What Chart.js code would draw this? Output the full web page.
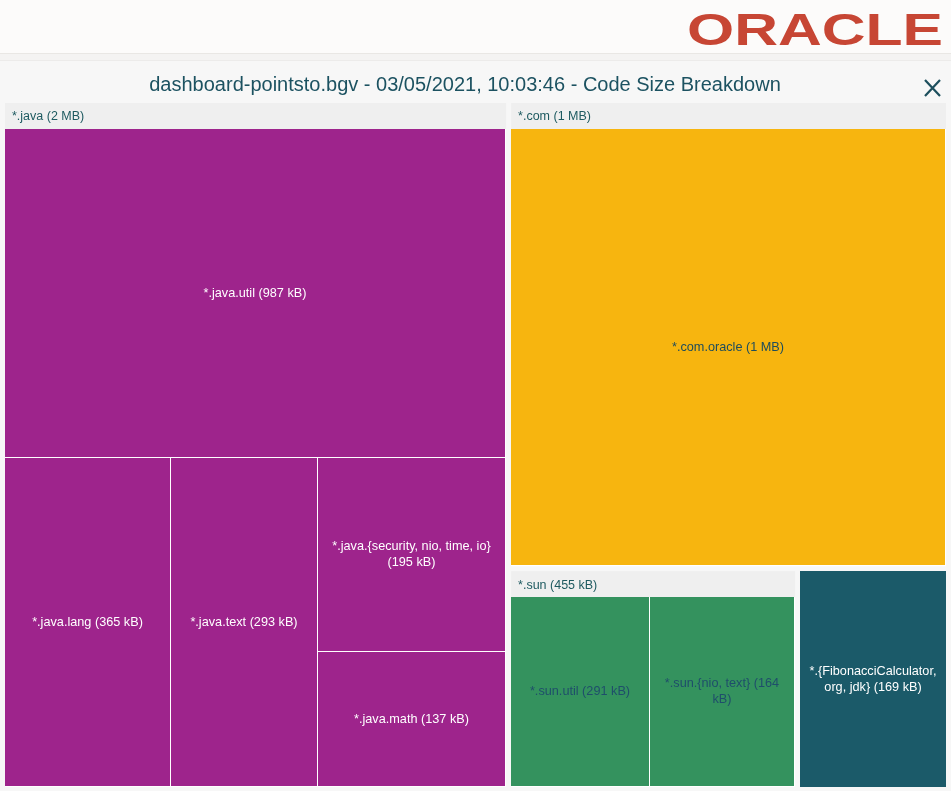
<!DOCTYPE html>
<html>
<head>
<meta charset="utf-8">
<script src="https://cdn.jsdelivr.net/npm/chart.js@4.4.1/dist/chart.umd.min.js"></script>
<style>
html,body{margin:0;padding:0;background:#f7f7f7;}
#wrap{width:951px;height:791px;position:relative;}
</style>
</head>
<body>
<div id="wrap"><canvas id="c"></canvas></div>
<script>
// ---- data ----
const titleText = 'dashboard-pointsto.bgv - 03/05/2021, 10:03:46 - Code Size Breakdown';
const groupNames = ['*.java', '*.com', '*.sun'];
const groupSizes = ['2 MB', '1 MB', '455 kB'];
const leafNames = ['*.java.util', '*.java.lang', '*.java.text', '*.java.{security, nio, time, io}', '*.java.math',
                   '*.com.oracle', '*.sun.util', '*.sun.{nio, text}', '*.{FibonacciCalculator, org, jdk}'];
const leafSizes = ['987 kB', '365 kB', '293 kB', '195 kB', '137 kB', '1 MB', '291 kB', '164 kB', '169 kB'];
// relative tile areas as they appear in the picture
const leafWeights = [26.75, 8.87, 7.83, 5.92, 4.12, 31.6, 4.78, 5.01, 5.11];
const leafGroup = [0, 0, 0, 0, 0, 1, 2, 2, -1];
const groupColors = ['#9e248c', '#f7b50f', '#34925e'];
const groupTextColors = ['#ffffff', '#1e4d5c', '#1f4e6b'];
const ungroupedColor = '#1b5a69';
const ungroupedTextColor = '#ffffff';
// split structure: d = direction ('h' side by side, 'v' stacked), g = group index, numbers = leaves
const splitTree = {d: 'h', c: [
  {g: 0, d: 'v', c: [0, {d: 'h', c: [1, 2, {d: 'v', c: [3, 4]}]}]},
  {d: 'v', c: [
    {g: 1, d: 'v', c: [5]},
    {d: 'h', c: [{g: 2, d: 'h', c: [6, 7]}, 8]}
  ]}
]};

const HEADER = 26, GAP = 5, FONT = '"Liberation Sans", Arial, sans-serif';

function weightOf(n) {
  return typeof n === 'number' ? leafWeights[n] : n.c.reduce((s, k) => s + weightOf(k), 0);
}

function layout(n, r, out, inGroup, xs, ys) {
  const toPx = q => ({l: xs.getPixelForValue(q.x0), r: xs.getPixelForValue(q.x1),
                      t: ys.getPixelForValue(q.y0), b: ys.getPixelForValue(q.y1)});
  const toVal = p => ({x0: xs.getValueForPixel(p.l), x1: xs.getValueForPixel(p.r),
                       y0: ys.getValueForPixel(p.t), y1: ys.getValueForPixel(p.b)});
  if (!inGroup && (typeof n === 'number' || n.g !== undefined)) {
    let p = toPx(r);
    p = {l: p.l + GAP / 2, r: p.r - GAP / 2, t: p.t + GAP / 2, b: p.b - GAP / 2};
    if (typeof n === 'number') { out.leaves.push({i: n, p, top: true}); return; }
    const body = {l: p.l, r: p.r, t: p.t + HEADER, b: p.b};
    out.groups.push({g: n.g, p, body});
    r = toVal(body);
    inGroup = true;
  }
  if (typeof n === 'number') { out.leaves.push({i: n, p: toPx(r), top: false}); return; }
  const tot = weightOf(n);
  let acc = 0;
  n.c.forEach(k => {
    const w = weightOf(k);
    const a = acc / tot, b = (acc + w) / tot;
    acc += w;
    const sub = n.d === 'h'
      ? {x0: r.x0 + (r.x1 - r.x0) * a, x1: r.x0 + (r.x1 - r.x0) * b, y0: r.y0, y1: r.y1}
      : {x0: r.x0, x1: r.x1, y0: r.y0 + (r.y1 - r.y0) * a, y1: r.y0 + (r.y1 - r.y0) * b};
    layout(k, sub, out, inGroup, xs, ys);
  });
}

function wrapText(ctx, text, maxW) {
  const words = text.split(' ');
  const lines = [];
  let cur = '';
  words.forEach(w => {
    const t = cur ? cur + ' ' + w : w;
    if (cur && ctx.measureText(t).width > maxW) { lines.push(cur); cur = w; }
    else cur = t;
  });
  if (cur) lines.push(cur);
  return lines;
}

const backdrop = {
  id: 'backdrop',
  beforeDraw(chart) {
    const ctx = chart.ctx, W = chart.width, H = chart.height;
    ctx.save();
    ctx.fillStyle = '#f7f7f7'; ctx.fillRect(0, 0, W, H);
    ctx.fillStyle = '#fcfbfa'; ctx.fillRect(0, 0, W, 53);
    ctx.fillStyle = '#e9e7e4'; ctx.fillRect(0, 53, W, 1);
    ctx.fillStyle = '#f4f3f2'; ctx.fillRect(0, 54, W, 6);
    ctx.fillStyle = '#ecebea'; ctx.fillRect(0, 60, W, 1);
    // logo
    ctx.fillStyle = '#c74634';
    ctx.font = 'bold 44px ' + FONT;
    ctx.textBaseline = 'alphabetic';
    const tw = ctx.measureText('ORACLE').width;
    ctx.translate(687, 45);
    ctx.scale(256 / tw, 1);
    ctx.fillText('ORACLE', 0, 0);
    ctx.restore();
    // title
    ctx.save();
    ctx.fillStyle = '#1c5261';
    ctx.font = '20px ' + FONT;
    ctx.textAlign = 'center'; ctx.textBaseline = 'middle';
    ctx.fillText(titleText, 465, 85);
    ctx.restore();
    // close icon
    ctx.save();
    ctx.strokeStyle = '#1d4f5d'; ctx.lineWidth = 2.2; ctx.lineCap = 'butt';
    ctx.beginPath();
    ctx.moveTo(925, 80); ctx.lineTo(940, 96);
    ctx.moveTo(940, 80); ctx.lineTo(925, 96);
    ctx.stroke();
    ctx.restore();
  }
};

const treemap = {
  id: 'treemapTiles',
  afterDatasetsDraw(chart) {
    const ctx = chart.ctx, xs = chart.scales.x, ys = chart.scales.y;
    const out = {groups: [], leaves: []};
    layout(splitTree, {x0: 0, x1: 1, y0: 0, y1: 1}, out, false, xs, ys);
    ctx.save();
    out.groups.forEach(G => {
      const p = G.p;
      ctx.fillStyle = '#efefef';
      ctx.fillRect(p.l, p.t, p.r - p.l, HEADER);
      ctx.fillStyle = '#ffffff';
      ctx.fillRect(p.l, G.body.t, p.r - p.l, G.body.b - G.body.t);
      ctx.fillStyle = '#1e5a60';
      ctx.font = '12.5px ' + FONT;
      ctx.textAlign = 'left'; ctx.textBaseline = 'middle';
      ctx.fillText(groupNames[G.g] + ' (' + groupSizes[G.g] + ')', p.l + 7, p.t + 14);
    });
    out.leaves.forEach(L => {
      const p = L.p, g = leafGroup[L.i];
      const l = Math.round(p.l), t = Math.round(p.t);
      const w = Math.round(p.r) - l - (L.top ? 0 : 1), h = Math.round(p.b) - t - (L.top ? 0 : 1);
      ctx.fillStyle = g >= 0 ? groupColors[g] : ungroupedColor;
      ctx.fillRect(l, t, w, h);
      ctx.fillStyle = g >= 0 ? groupTextColors[g] : ungroupedTextColor;
      ctx.font = '12.7px ' + FONT;
      ctx.textAlign = 'center'; ctx.textBaseline = 'middle';
      const lines = wrapText(ctx, leafNames[L.i] + ' (' + leafSizes[L.i] + ')', w - 12);
      const cx = l + w / 2, cy = t + h / 2, lh = 16;
      lines.forEach((s, k) => ctx.fillText(s, cx, cy + (k - (lines.length - 1) / 2) * lh));
    });
    ctx.restore();
  }
};

new Chart(document.getElementById('c'), {
  type: 'scatter',
  data: {datasets: [{data: [], showLine: false}]},
  options: {
    responsive: true,
    maintainAspectRatio: false,
    animation: false,
    events: [],
    layout: {padding: {left: 2.5, right: 2.5, top: 100.5, bottom: 1.5}},
    scales: {
      x: {type: 'linear', min: 0, max: 1, display: false},
      y: {type: 'linear', min: 0, max: 1, reverse: true, display: false}
    },
    plugins: {
      legend: {display: false},
      tooltip: {enabled: false},
      title: {display: false}
    }
  },
  plugins: [backdrop, treemap]
});
</script>
</body>
</html>
